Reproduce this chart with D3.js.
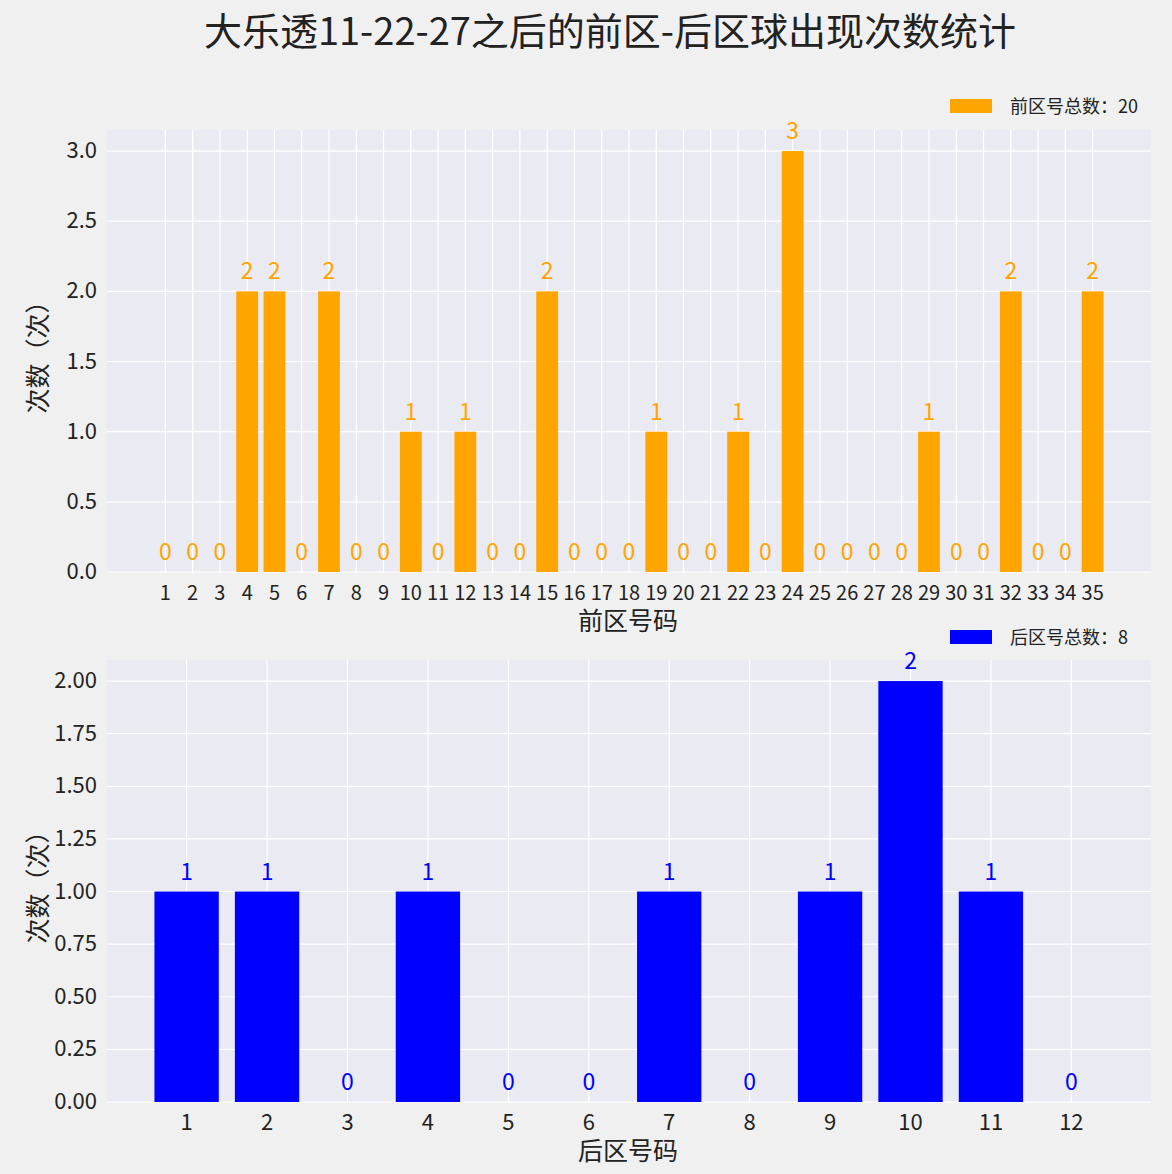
<!DOCTYPE html><html><head><meta charset="utf-8">
<script src="https://cdn.jsdelivr.net/npm/d3@7"></script>
<style>body{margin:0;background:#f0f0f0}text{font-family:"Noto Sans CJK SC","DejaVu Sans",sans-serif}</style></head><body>
<svg id="c" width="1172" height="1174"></svg>
<script>
const frontNums = d3.range(1,36);
const frontVals = [0,0,0,2,2,0,2,0,0,1,0,1,0,0,2,0,0,0,1,0,0,1,0,3,0,0,0,0,1,0,0,2,0,0,2];
const backNums = d3.range(1,13);
const backVals = [1,1,0,1,0,0,1,0,1,2,1,0];
const frontTicks = [0,0.5,1,1.5,2,2.5,3];
const backTicks = [0,0.25,0.5,0.75,1,1.25,1.5,1.75,2];
const svg = d3.select("#c");
svg.append("rect").attr("width",1172).attr("height",1174).attr("fill","#f0f0f0");
svg.append("text").attr("x",610).attr("y",45).attr("text-anchor","middle").attr("font-size",38).attr("fill","#222")
  .text("大乐透11-22-27之后的前区-后区球出现次数统计");
function panel(nums, vals, ticks, fmt, ymax, top, bottom, color, xlabel, legend, legY){
  const L=107,R=1151;
  const n=nums.length, ext=n-0.2, m=ext*0.05;
  const x=d3.scaleLinear().domain([0.6-m, n+0.4+m]).range([L,R]);
  const y=d3.scaleLinear().domain([0,ymax]).range([bottom,top]);
  const g=svg.append("g");
  g.append("rect").attr("x",L).attr("y",top).attr("width",R-L).attr("height",bottom-top).attr("fill","#eaeaf2");
  g.selectAll(".gy").data(ticks).join("line").attr("x1",L).attr("x2",R).attr("y1",d=>y(d)).attr("y2",d=>y(d)).attr("stroke","#fff").attr("stroke-width",1.2);
  g.selectAll(".gx").data(nums).join("line").attr("y1",top).attr("y2",bottom).attr("x1",d=>x(d)).attr("x2",d=>x(d)).attr("stroke","#fff").attr("stroke-width",1.2);
  g.selectAll(".yt").data(ticks).join("text").attr("x",L-10).attr("y",d=>y(d)+7).attr("text-anchor","end").attr("font-size",22).attr("fill","#222").text(fmt);
  g.selectAll(".xt").data(nums).join("text").attr("x",d=>x(d)).attr("y",bottom+28).attr("text-anchor","middle").attr("font-size",n>20?20:22).attr("fill","#222").text(d=>d);
  g.selectAll(".b").data(vals).join("rect").attr("x",(d,i)=>x(nums[i]-0.4)).attr("width",x(0.8)-x(0)).attr("y",d=>y(d)).attr("height",d=>bottom-y(d)).attr("fill",color);
  g.selectAll(".v").data(vals).join("text").attr("x",(d,i)=>x(nums[i])).attr("y",d=>y(d)-12).attr("text-anchor","middle").attr("font-size",23).attr("fill",color).text(d=>d);
  g.append("text").attr("x",(L+R)/2-1).attr("y",bottom+58).attr("text-anchor","middle").attr("font-size",25).attr("fill","#222").text(xlabel);
  g.append("text").attr("transform",`translate(47,${(top+bottom)/2}) rotate(-90)`).attr("text-anchor","middle").attr("font-size",25).attr("fill","#222").text("次数（次）");
  g.append("rect").attr("x",950).attr("y",legY-7).attr("width",42).attr("height",14).attr("fill",color);
  g.append("text").attr("x",1010).attr("y",legY+7).attr("font-size",18).attr("fill","#222").text(legend);
}
panel(frontNums,frontVals,frontTicks,d3.format(".1f"),3.15,130,572,"orange","前区号码","前区号总数：20",106);
panel(backNums,backVals,backTicks,d3.format(".2f"),2.1,660,1102,"blue","后区号码","后区号总数：8",637);
</script></body></html>
